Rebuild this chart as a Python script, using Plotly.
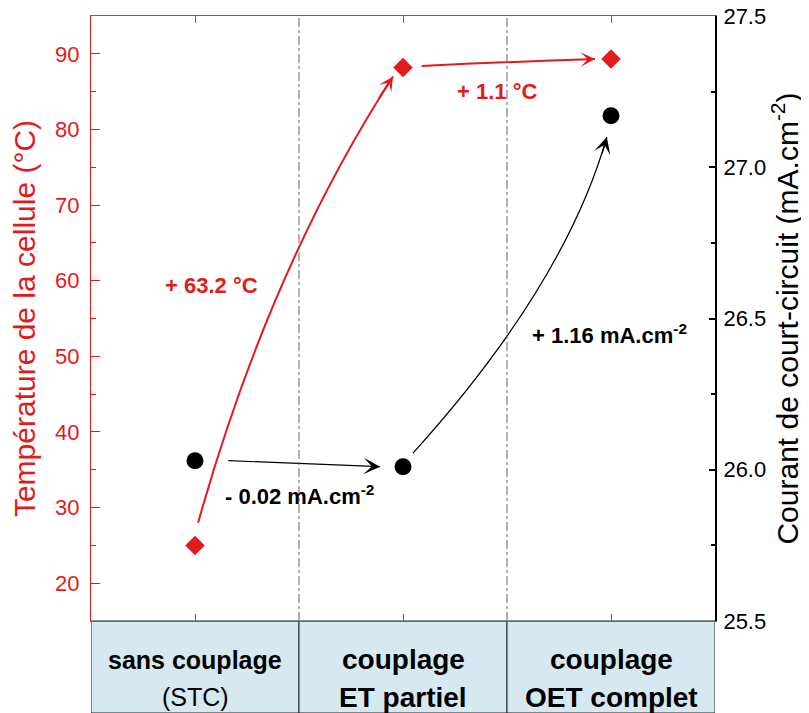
import plotly.graph_objects as go

FONT = 'Liberation Sans, Arial, sans-serif'
RED = '#E31A1C'
GREY = '#666666'
BOX = '#D6E8F0'

# ── Data ───────────────────────────────────────────────────────────────
categories = ['sans couplage (STC)', 'couplage ET partiel', 'couplage OET complet']
box_line1 = ['sans couplage', 'couplage', 'couplage']
box_line2 = ['(STC)', 'ET partiel', 'OET complet']
temperature = [25.0, 88.2, 89.3]          # °C
current = [26.03, 26.01, 27.17]           # mA.cm-2
temp_gain = ['+ 63.2 °C', '+ 1.1 °C']
current_gain = ['- 0.02 mA.cm<sup>-2</sup>', '+ 1.16 mA.cm<sup>-2</sup>']
temp_ticks = [20, 30, 40, 50, 60, 70, 80, 90]
current_ticks = [25.5, 26.0, 26.5, 27.0, 27.5]

x = list(range(len(categories)))

fig = go.Figure()

fig.add_trace(go.Scatter(
    x=x, y=temperature, mode='markers',
    marker=dict(symbol='diamond', size=15, color=RED, line=dict(width=0)),
    cliponaxis=False,
))
fig.add_trace(go.Scatter(
    x=x, y=current, mode='markers', yaxis='y2',
    marker=dict(symbol='circle', size=17, color='black', line=dict(width=0)),
    cliponaxis=False,
))


def curved_arrow(p0, p2, bend, yref, color, width, head):
    """Quadratic curve from p0 to p2 with an arrowhead on p2."""
    (x0, y0), (x2, y2) = p0, p2
    cx = x0 + bend[0] * (x2 - x0)
    cy = y0 + bend[1] * (y2 - y0)
    fig.add_shape(
        type='path', path=f'M {x0},{y0} Q {cx},{cy} {x2},{y2}',
        xref='x', yref=yref, line=dict(color=color, width=width),
    )
    fig.add_annotation(
        x=x2, y=y2, xref='x', yref=yref,
        ax=x2 - 0.12 * (x2 - cx), ay=y2 - 0.12 * (y2 - cy),
        axref='x', ayref=yref, text='', showarrow=True,
        arrowhead=3, arrowsize=head, arrowwidth=width, arrowcolor=color,
    )


# temperature arrows
curved_arrow((x[0] + 0.015, temperature[0] + 3.0), (x[1] - 0.048, temperature[1] - 1.2),
             (0.369, 0.574), 'y', RED, 2, 1.2)
curved_arrow((x[1] + 0.09, temperature[1] + 0.2), (x[2] - 0.077, temperature[2]),
             (0.5, 0.6), 'y', RED, 2, 1.2)
# current arrows
curved_arrow((x[0] + 0.16, current[0]), (x[1] - 0.11, current[1]),
             (0.5, 0.5), 'y2', 'black', 1.2, 2.3)
curved_arrow((x[1] + 0.048, current[1] + 0.045), (x[2] - 0.02, current[2] - 0.07),
             (0.783, 0.532), 'y2', 'black', 1.2, 2.3)

# gain labels
fig.add_annotation(x=0.08, y=59.4, yref='y', text=f'<b>{temp_gain[0]}</b>',
                   showarrow=False, font=dict(color=RED, size=22, family=FONT))
fig.add_annotation(x=1.452, y=85.0, yref='y', text=f'<b>{temp_gain[1]}</b>',
                   showarrow=False, font=dict(color=RED, size=22, family=FONT))
fig.add_annotation(x=0.135, y=25.918, yref='y2', xanchor='left', text=f'<b>{current_gain[0]}</b>',
                   showarrow=False, font=dict(color='black', size=22, family=FONT))
fig.add_annotation(x=1.611, y=26.45, yref='y2', xanchor='left', text=f'<b>{current_gain[1]}</b>',
                   showarrow=False, font=dict(color='black', size=22, family=FONT))

# dash-dot separators
for xs in [0.5, 1.5]:
    fig.add_shape(type='line', x0=xs, x1=xs, y0=0, y1=1, xref='x', yref='paper',
                  line=dict(color=GREY, width=1, dash='dashdot'))

# category boxes under the plot
box_bottom = -92 / 605
for i, (l1, l2) in enumerate(zip(box_line1, box_line2)):
    fig.add_shape(type='rect', x0=x[i] - 0.5, x1=x[i] + 0.5, y0=box_bottom, y1=0,
                  xref='x', yref='paper', fillcolor=BOX, line=dict(color='#222222', width=1),
                  layer='below')
    size = 25 if i == 0 else 28
    fig.add_annotation(x=x[i], y=-0.064, xref='x', yref='paper', text=f'<b>{l1}</b>',
                       showarrow=False, yanchor='middle',
                       font=dict(color='black', size=size, family=FONT))
    fig.add_annotation(x=x[i], y=-0.126, xref='x', yref='paper',
                       text=l2 if i == 0 else f'<b>{l2}</b>',
                       showarrow=False, yanchor='middle',
                       font=dict(color='black', size=size, family=FONT))

# the page body adds an 8px offset, so the figure is 801x705
fig.update_layout(
    width=801, height=705, autosize=False,
    margin=dict(l=83, r=94, t=8, b=92),
    paper_bgcolor='white', plot_bgcolor='white',
    showlegend=False,
    font=dict(family=FONT, color='black'),
    xaxis=dict(
        range=[-0.5, 2.5], tickvals=x, showticklabels=False, automargin=False,
        ticks='inside', ticklen=7, tickcolor=GREY, tickwidth=1,
        showline=True, linecolor=GREY, linewidth=1, mirror='ticks',
        showgrid=False, zeroline=False,
    ),
    yaxis=dict(
        range=[15, 95], tickvals=temp_ticks, automargin=False,
        ticks='inside', ticklen=9, tickcolor=RED, tickwidth=1,
        minor=dict(tick0=15, dtick=5, ticks='inside', ticklen=5, tickcolor=RED),
        showline=True, linecolor=RED, linewidth=1,
        tickfont=dict(color=RED, size=22, family=FONT), ticklabelstandoff=6,
        title=dict(text='Température de la cellule (°C)', standoff=10,
                   font=dict(color=RED, size=30, family=FONT)),
        showgrid=False, zeroline=False,
    ),
    yaxis2=dict(
        overlaying='y', side='right', range=[25.5, 27.5], automargin=False,
        tickvals=current_ticks, tickformat='.1f', ticklabeloverflow='allow',
        ticks='inside', ticklen=6, tickcolor='black', tickwidth=2,
        minor=dict(tick0=25.5, dtick=0.25, ticks='inside', ticklen=4, tickcolor='black', tickwidth=2),
        showline=True, linecolor='black', linewidth=2,
        tickfont=dict(color='black', size=22, family=FONT), ticklabelstandoff=2,
        title=dict(text='Courant de court-circuit (mA.cm<sup>-2</sup>)', standoff=8,
                   font=dict(color='black', size=30, family=FONT)),
        showgrid=False, zeroline=False,
    ),
)

fig.write_html('out.html')
